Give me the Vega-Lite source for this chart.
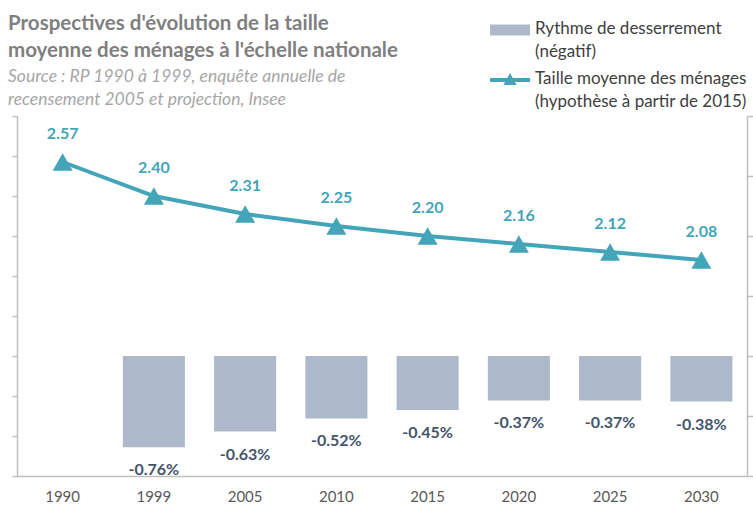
{
  "$schema": "https://vega.github.io/schema/vega-lite/v6.json",
  "width": 730,
  "height": 360,
  "autosize": "none",
  "padding": {"left": 17, "top": 116, "right": 6, "bottom": 31},
  "background": "white",
  "config": {
    "view": {"stroke": null},
    "font": "Lato",
    "locale": {"number": {"decimal": ".", "thousands": ",", "grouping": [3], "currency": ["", ""], "minus": "-"}}
  },
  "title": {
    "text": ["Prospectives d'évolution de la taille", "moyenne des ménages à l'échelle nationale"],
    "subtitle": ["Source : RP 1990 à 1999, enquête annuelle de", "recensement 2005 et projection, Insee"],
    "anchor": "start",
    "frame": "group",
    "dx": -9,
    "dy": 108,
    "offset": 10,
    "font": "Lato",
    "fontSize": 20.5,
    "fontWeight": "bold",
    "color": "#7F7F7F",
    "lineHeight": 27,
    "subtitleFont": "Lato",
    "subtitleFontSize": 17.5,
    "subtitleFontStyle": "italic",
    "subtitleColor": "#A6A6A6",
    "subtitleLineHeight": 23,
    "subtitlePadding": 6
  },
  "data": {
    "values": [
      {"year": "1990", "rate": null, "taille": 2.57},
      {"year": "1999", "rate": -0.0076, "taille": 2.40},
      {"year": "2005", "rate": -0.0063, "taille": 2.31},
      {"year": "2010", "rate": -0.0052, "taille": 2.25},
      {"year": "2015", "rate": -0.0045, "taille": 2.20},
      {"year": "2020", "rate": -0.0037, "taille": 2.16},
      {"year": "2025", "rate": -0.0037, "taille": 2.12},
      {"year": "2030", "rate": -0.0038, "taille": 2.08}
    ]
  },
  "encoding": {
    "x": {
      "field": "year",
      "type": "ordinal",
      "scale": {"paddingInner": 0, "paddingOuter": 0},
      "axis": {
        "title": null,
        "labelAngle": 0,
        "ticks": false,
        "domainColor": "#BFBFBF",
        "domainWidth": 1.5,
        "labelFontSize": 15,
        "labelColor": "#595959",
        "labelPadding": 13,
        "labelFont": "Lato"
      }
    }
  },
  "layer": [
    {
      "layer": [
        {
          "mark": {"type": "bar", "width": {"band": 0.68}},
          "encoding": {
            "y": {
              "field": "rate",
              "type": "quantitative",
              "scale": {"domain": [-0.01, 0.02], "nice": false, "zero": false},
              "axis": {
                "orient": "left",
                "title": null,
                "labels": false,
                "grid": false,
                "tickSize": 5,
                "tickCount": 30,
                "tickColor": "#BFBFBF",
                "domainColor": "#BFBFBF",
                "domainWidth": 1.5,
                "tickWidth": 1.5,
                "values": [-0.01, -0.0066667, -0.0033333, 0, 0.0033333, 0.0066667, 0.01, 0.0133333, 0.0166667, 0.02]
              }
            },
            "color": {
              "datum": "Rythme de desserrement (négatif)",
              "type": "nominal",
              "scale": {
                "domain": ["Rythme de desserrement (négatif)", "Taille moyenne des ménages (hypothèse à partir de 2015)"],
                "range": ["#ADB9CA", "#43A5B7"]
              },
              "legend": {
                "orient": "none",
                "legendX": 473,
                "legendY": -106,
                "title": null,
                "direction": "vertical",
                "padding": 0,
                "symbolSize": 1600,
                "labelOffset": 5,
                "labelFontSize": 17,
                "labelFont": "Lato",
                "labelColor": "#404040",
                "labelLimit": 400,
                "rowPadding": 0,
                "labelBaseline": "top",
                "labelExpr": "datum.value == 'Rythme de desserrement (négatif)' ? ['Rythme de desserrement', '(négatif)'] : ['Taille moyenne des ménages', '(hypothèse à partir de 2015)']",
                "encode": {
                  "symbols": {
                    "update": {
                      "shape": {"signal": "datum.value == 'Rythme de desserrement (négatif)' ? 'M-1,-0.27H1V0.27H-1Z' : 'M-1,-0.1H1V0.1H-1Z M-0.33,0.25L0,-0.35L0.33,0.25Z'"},
                      "fill": {"signal": "datum.value == 'Rythme de desserrement (négatif)' ? '#ADB9CA' : '#43A5B7'"},
                      "stroke": {"value": "transparent"},
                      "strokeWidth": {"value": 0},
                      "opacity": {"value": 1}
                    }
                  },
                  "labels": {
                    "update": {
                      "dy": {"value": -9},
                      "lineHeight": {"value": 23}
                    }
                  }
                }
              }
            }
          }
        },
        {
          "mark": {"type": "text", "fontWeight": "bold", "fontSize": 16, "color": "#44546A", "baseline": "middle", "dy": 23, "font": "Lato"},
          "encoding": {
            "y": {"field": "rate", "type": "quantitative"},
            "text": {"field": "rate", "type": "quantitative", "format": ".2%"}
          }
        }
      ]
    },
    {
      "layer": [
        {
          "mark": {
            "type": "line",
            "strokeWidth": 4,
            "point": {"shape": "triangle-up", "size": 400, "filled": true, "opacity": 1}
          },
          "encoding": {
            "y": {
              "field": "taille",
              "type": "quantitative",
              "scale": {"domain": [1, 2.8], "nice": false, "zero": false},
              "axis": {
                "orient": "right",
                "title": null,
                "labels": false,
                "grid": false,
                "tickSize": 6,
                "tickCount": 30,
                "tickColor": "#BFBFBF",
                "domainColor": "#BFBFBF",
                "domainWidth": 1.5,
                "tickWidth": 1.5,
                "values": [1, 1.3, 1.6, 1.9, 2.2, 2.5, 2.8]
              }
            },
            "color": {"datum": "Taille moyenne des ménages (hypothèse à partir de 2015)", "type": "nominal"}
          }
        },
        {
          "mark": {"type": "text", "fontWeight": "bold", "fontSize": 16, "color": "#43A5B7", "baseline": "middle", "dy": -28, "font": "Lato"},
          "encoding": {
            "y": {"field": "taille", "type": "quantitative"},
            "text": {"field": "taille", "type": "quantitative", "format": ".2f"}
          }
        }
      ]
    }
  ],
  "resolve": {"scale": {"y": "independent"}}
}
